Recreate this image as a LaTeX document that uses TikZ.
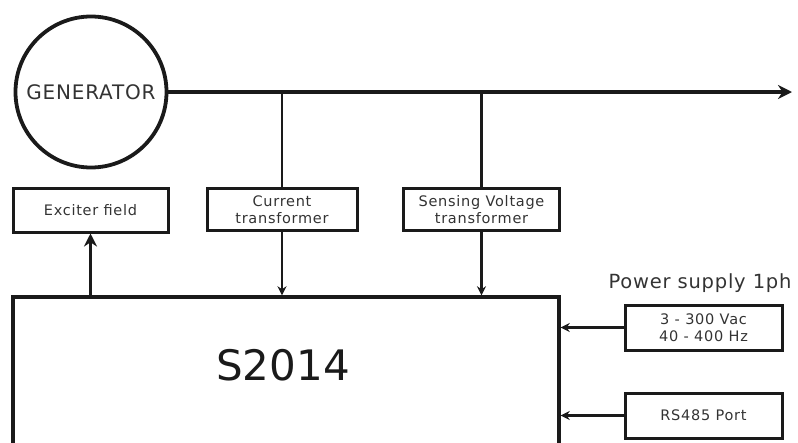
\documentclass[tikz,border=0pt]{standalone}
\usepackage{fontspec}
\setmainfont{DejaVu Sans}
\newfontfamily\spacedfont[LetterSpace=5]{DejaVu Sans}
\newfontfamily\widefont[LetterSpace=4]{DejaVu Sans}
\usetikzlibrary{arrows.meta}
\definecolor{ink}{HTML}{1A1A1A}
\definecolor{txt}{HTML}{333333}
\tikzset{
  box/.style={draw=ink, line width=3pt, rectangle, inner sep=0pt, align=center,
    text=txt, font=\spacedfont\fontsize{14.5}{17.5}\selectfont},
  tap/.style={draw=ink, line width=2.3pt},
  sigarrow/.style={draw=ink, line width=2.3pt, -{Stealth[length=9pt,width=9pt]}},
  bigarrow/.style={draw=ink, line width=3.6pt, -{Stealth[length=14pt,width=14pt]}},
}
\begin{document}
\begin{tikzpicture}[x=1pt,y=-1pt]
\useasboundingbox (0,0) rectangle (798,442);
\clip (0,0) rectangle (798,442);
% generator
\node[circle, draw=ink, line width=3.8pt, minimum size=151pt, inner sep=0pt,
  text=txt, font=\widefont\fontsize{20}{23}\selectfont] (gen) at (91,92) {GENERATOR};
% boxes
\node[box, minimum width=155pt, minimum height=44pt] (exc) at (90.5,210) {Exciter field};
\node[box, minimum width=150pt, minimum height=42pt] (ct) at (282,209.5) {Current\\transformer};
\node[box, minimum width=156pt, minimum height=42pt] (vt) at (481.5,209.5) {Sensing Voltage\\transformer};
\node[draw=ink, line width=3.4pt, rectangle, minimum width=546pt, minimum height=200pt, inner sep=0pt] (s) at (286,397) {};
\node[text=ink, font=\fontsize{42}{46}\selectfont, inner sep=0pt] (slabel) at (283,365) {S2014};
\node[text=txt, font=\widefont\fontsize{19.5}{23}\selectfont, inner sep=0pt] (pslabel) at (700,283) {Power supply 1ph};
\node[box, minimum width=157pt, minimum height=45pt] (ps) at (703.5,327.5) {3 - 300 Vac\\40 - 400 Hz};
\node[box, minimum width=157pt, minimum height=45pt] (rs) at (703.5,415.5) {RS485 Port};
% main line
\coordinate (out) at (792,92);
\coordinate (tapc) at (282,92);
\coordinate (tapv) at (481.5,92);
\draw[bigarrow] (gen.east) -- (out);
\draw[tap] (tapc) -- (ct.north);
\draw[tap] (tapv) -- (vt.north);
\draw[sigarrow] (ct.south) -- (ct.south |- s.north);
\draw[sigarrow] (vt.south) -- (vt.south |- s.north);
\draw[draw=ink, line width=3.6pt, -{Stealth[length=13pt,width=13pt]}] (exc.south |- s.north) -- (exc.south);
\draw[sigarrow] (ps.west) -- (ps.west -| s.east);
\draw[sigarrow] (rs.west) -- (rs.west -| s.east);
\end{tikzpicture}
\end{document}
